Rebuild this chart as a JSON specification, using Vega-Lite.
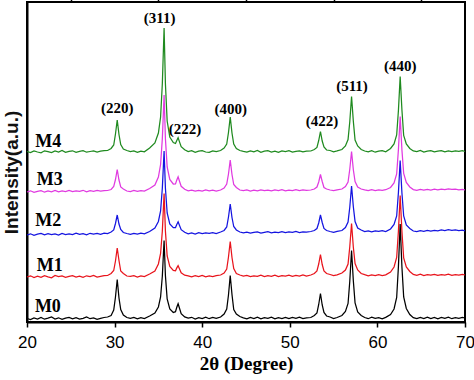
{
  "$schema": "https://vega.github.io/schema/vega-lite/v6.json",
  "width": 438,
  "height": 320,
  "autosize": "none",
  "padding": {"left": 27, "top": 2, "right": 9, "bottom": 58},
  "config": {"view": {"stroke": "black", "strokeWidth": 2}, "font": "Liberation Sans"},
  "datasets": {
    "xrd": [
      {"x":20.0,"M0":3.5,"M1":45,"M2":87,"M3":130,"M4":170.5},
      {"x":20.4,"M0":2.5,"M1":46.2,"M2":88.2,"M3":131.2,"M4":169.4},
      {"x":20.8,"M0":4,"M1":44.5,"M2":86.6,"M3":129.6,"M4":171},
      {"x":21.2,"M0":3,"M1":45.8,"M2":87.8,"M3":130.7,"M4":170},
      {"x":21.6,"M0":4.5,"M1":44.6,"M2":88.6,"M3":131.3,"M4":169.2},
      {"x":22.0,"M0":2.8,"M1":46.3,"M2":87.1,"M3":129.8,"M4":171.2},
      {"x":22.4,"M0":3.8,"M1":45.1,"M2":88.4,"M3":131,"M4":170.4},
      {"x":22.8,"M0":5,"M1":44.2,"M2":87.3,"M3":130.2,"M4":169.5},
      {"x":23.2,"M0":3,"M1":46.5,"M2":88.1,"M3":131.5,"M4":171},
      {"x":23.6,"M0":4.2,"M1":45.3,"M2":87,"M3":130.1,"M4":170},
      {"x":24.0,"M0":2.6,"M1":46,"M2":88.6,"M3":131.2,"M4":171.5},
      {"x":24.4,"M0":3.9,"M1":44.7,"M2":87.5,"M3":130.5,"M4":169.6},
      {"x":24.8,"M0":4.6,"M1":45.6,"M2":88.2,"M3":131.6,"M4":170.6},
      {"x":25.2,"M0":3.2,"M1":46.4,"M2":87.4,"M3":130.3,"M4":171.2},
      {"x":25.6,"M0":4.4,"M1":45,"M2":88.8,"M3":131,"M4":169.7},
      {"x":26.0,"M0":2.9,"M1":45.9,"M2":87.6,"M3":130.6,"M4":170.7},
      {"x":26.4,"M0":3.7,"M1":44.6,"M2":88.3,"M3":131.7,"M4":171.3},
      {"x":26.8,"M0":5,"M1":46.2,"M2":87.2,"M3":130.2,"M4":169.8},
      {"x":27.2,"M0":3.3,"M1":45.4,"M2":88.7,"M3":131.3,"M4":170.5},
      {"x":27.6,"M0":4.1,"M1":46.5,"M2":87.9,"M3":130.6,"M4":171},
      {"x":28.0,"M0":2.7,"M1":44.9,"M2":88.5,"M3":131.5,"M4":169.9},
      {"x":28.4,"M0":3.6,"M1":45.7,"M2":87.6,"M3":130.8,"M4":170.8},
      {"x":28.8,"M0":4.5,"M1":46.3,"M2":88.9,"M3":131.4,"M4":171.4},
      {"x":29.2,"M0":5,"M1":46.5,"M2":88.5,"M3":131.5,"M4":171.5},
      {"x":29.6,"M0":6.5,"M1":48.5,"M2":90,"M3":132.5,"M4":173.5},
      {"x":29.9,"M0":12,"M1":51.5,"M2":92,"M3":135.5,"M4":177},
      {"x":30.1,"M0":25,"M1":61,"M2":98.5,"M3":142.5,"M4":188},
      {"x":30.3,"M0":42.5,"M1":74,"M2":107,"M3":152.5,"M4":202},
      {"x":30.5,"M0":24,"M1":61.5,"M2":98,"M3":142,"M4":187.5},
      {"x":30.7,"M0":12.5,"M1":51,"M2":92.5,"M3":135,"M4":177.5},
      {"x":31.0,"M0":7,"M1":48.5,"M2":89.5,"M3":133,"M4":173},
      {"x":31.4,"M0":4.5,"M1":46,"M2":88.5,"M3":131,"M4":171.5},
      {"x":31.8,"M0":3.6,"M1":45.6,"M2":87.6,"M3":130.5,"M4":170.3},
      {"x":32.2,"M0":4.6,"M1":46.4,"M2":88.5,"M3":131.6,"M4":171.1},
      {"x":32.6,"M0":3.1,"M1":45,"M2":87.9,"M3":130.7,"M4":169.6},
      {"x":33.0,"M0":4.3,"M1":46.1,"M2":88.8,"M3":131.4,"M4":170.9},
      {"x":33.4,"M0":3.5,"M1":45.4,"M2":88.2,"M3":130.9,"M4":170.2},
      {"x":34.0,"M0":6,"M1":48,"M2":90.5,"M3":133.5,"M4":174},
      {"x":34.6,"M0":9,"M1":51,"M2":94,"M3":137,"M4":179},
      {"x":35.0,"M0":15,"M1":58,"M2":100.5,"M3":145,"M4":189},
      {"x":35.25,"M0":25,"M1":68.5,"M2":111,"M3":157.5,"M4":205},
      {"x":35.45,"M0":46,"M1":91,"M2":134,"M3":183.5,"M4":238.5},
      {"x":35.65,"M0":81.5,"M1":128.5,"M2":171,"M3":227,"M4":294},
      {"x":35.8,"M0":46.5,"M1":91,"M2":134,"M3":183.5,"M4":238.5},
      {"x":36.0,"M0":23,"M1":66,"M2":109,"M3":155,"M4":201},
      {"x":36.3,"M0":13,"M1":55.5,"M2":98,"M3":142.5,"M4":185},
      {"x":36.7,"M0":9.5,"M1":51.6,"M2":94.4,"M3":138,"M4":179.5},
      {"x":36.95,"M0":10.3,"M1":51.3,"M2":94.4,"M3":138.1,"M4":178.5},
      {"x":37.1,"M0":14.7,"M1":54.1,"M2":97.6,"M3":142,"M4":181.6},
      {"x":37.25,"M0":18.3,"M1":56.4,"M2":100.2,"M3":145.1,"M4":184.3},
      {"x":37.4,"M0":14,"M1":53.3,"M2":96.8,"M3":141,"M4":180.4},
      {"x":37.6,"M0":8.4,"M1":49.2,"M2":92.3,"M3":135.7,"M4":175.4},
      {"x":38.0,"M0":5.1,"M1":46.8,"M2":89.7,"M3":132.7,"M4":172.3},
      {"x":38.4,"M0":3.8,"M1":46.2,"M2":88.2,"M3":131.2,"M4":170.4},
      {"x":38.8,"M0":4.7,"M1":45.1,"M2":89,"M3":131.9,"M4":171.3},
      {"x":39.2,"M0":3,"M1":46.3,"M2":88,"M3":130.8,"M4":169.7},
      {"x":39.6,"M0":4.4,"M1":45.4,"M2":89.3,"M3":131.7,"M4":170.8},
      {"x":40.0,"M0":3.4,"M1":46.6,"M2":88.4,"M3":131,"M4":171.4},
      {"x":40.4,"M0":4.9,"M1":45.2,"M2":89.1,"M3":132,"M4":170},
      {"x":40.8,"M0":3.3,"M1":46,"M2":88.6,"M3":131.1,"M4":169.6},
      {"x":41.2,"M0":4.5,"M1":45.5,"M2":89.4,"M3":131.8,"M4":171},
      {"x":41.6,"M0":3.6,"M1":46.4,"M2":88.5,"M3":130.9,"M4":170.3},
      {"x":42.1,"M0":5,"M1":47,"M2":90,"M3":132,"M4":171.5},
      {"x":42.5,"M0":8,"M1":49,"M2":91.5,"M3":134,"M4":174},
      {"x":42.8,"M0":13,"M1":53,"M2":95,"M3":138,"M4":178},
      {"x":43.0,"M0":27,"M1":65,"M2":105,"M3":148,"M4":189.5},
      {"x":43.2,"M0":46.5,"M1":80.5,"M2":118,"M3":162,"M4":205},
      {"x":43.4,"M0":27.5,"M1":64.5,"M2":104.5,"M3":147.5,"M4":189},
      {"x":43.6,"M0":12.5,"M1":53.5,"M2":95.5,"M3":137.5,"M4":178},
      {"x":43.9,"M0":8,"M1":48.5,"M2":92,"M3":134.5,"M4":173.5},
      {"x":44.3,"M0":5.5,"M1":47,"M2":90,"M3":132,"M4":171.5},
      {"x":44.7,"M0":4.2,"M1":45.8,"M2":89.2,"M3":131.3,"M4":170.6},
      {"x":45.1,"M0":3.1,"M1":46.6,"M2":89.9,"M3":132,"M4":169.8},
      {"x":45.5,"M0":4.6,"M1":45.3,"M2":88.8,"M3":131,"M4":171.2},
      {"x":45.9,"M0":3.4,"M1":46.2,"M2":89.6,"M3":131.8,"M4":170.2},
      {"x":46.3,"M0":4.9,"M1":45.6,"M2":90.1,"M3":131.2,"M4":171.5},
      {"x":46.7,"M0":3.2,"M1":46.8,"M2":89,"M3":132.2,"M4":169.7},
      {"x":47.1,"M0":4.4,"M1":45.4,"M2":89.7,"M3":131.4,"M4":170.8},
      {"x":47.5,"M0":3.6,"M1":46.3,"M2":90.3,"M3":131.9,"M4":171.3},
      {"x":47.9,"M0":4.8,"M1":45.7,"M2":89.2,"M3":131.1,"M4":170},
      {"x":48.3,"M0":3.1,"M1":46.9,"M2":89.9,"M3":132.1,"M4":170.9},
      {"x":48.7,"M0":4.3,"M1":45.5,"M2":89.4,"M3":131.5,"M4":169.6},
      {"x":49.1,"M0":3.5,"M1":46.4,"M2":90.4,"M3":132.3,"M4":171.1},
      {"x":49.5,"M0":4.7,"M1":45.9,"M2":89.3,"M3":131.2,"M4":170.4},
      {"x":49.9,"M0":3.3,"M1":46.8,"M2":90,"M3":131.9,"M4":171.4},
      {"x":50.3,"M0":4.5,"M1":45.6,"M2":89.6,"M3":131.4,"M4":169.9},
      {"x":50.7,"M0":3.7,"M1":46.5,"M2":90.5,"M3":132.4,"M4":170.7},
      {"x":51.1,"M0":4.9,"M1":46,"M2":89.5,"M3":131.3,"M4":171.2},
      {"x":51.5,"M0":3.4,"M1":47,"M2":90.2,"M3":132,"M4":170.1},
      {"x":51.9,"M0":4.2,"M1":45.8,"M2":89.8,"M3":131.6,"M4":170.8},
      {"x":52.4,"M0":4.5,"M1":47,"M2":90.5,"M3":132,"M4":171},
      {"x":52.8,"M0":6.5,"M1":48.5,"M2":91.5,"M3":133,"M4":172.5},
      {"x":53.1,"M0":9,"M1":51,"M2":93.5,"M3":135,"M4":174.5},
      {"x":53.3,"M0":17.5,"M1":58,"M2":99,"M3":140,"M4":181.5},
      {"x":53.5,"M0":28.5,"M1":67.5,"M2":107,"M3":147.5,"M4":190.5},
      {"x":53.7,"M0":17,"M1":57.5,"M2":99.5,"M3":140.5,"M4":181},
      {"x":53.9,"M0":9.5,"M1":51,"M2":93.5,"M3":134.5,"M4":175},
      {"x":54.2,"M0":6,"M1":48.5,"M2":91.5,"M3":133,"M4":172},
      {"x":54.6,"M0":5,"M1":47.5,"M2":90.5,"M3":132,"M4":171.5},
      {"x":55.0,"M0":3.4,"M1":46.4,"M2":89.7,"M3":131.3,"M4":170.2},
      {"x":55.4,"M0":4.5,"M1":47.2,"M2":90.6,"M3":132.1,"M4":171.1},
      {"x":55.95,"M0":6.5,"M1":49,"M2":91.5,"M3":133,"M4":172.5},
      {"x":56.35,"M0":10.5,"M1":52,"M2":94.5,"M3":135.5,"M4":176},
      {"x":56.65,"M0":18.5,"M1":58,"M2":100,"M3":140,"M4":182.5},
      {"x":56.85,"M0":41,"M1":75.5,"M2":115,"M3":153,"M4":200.5},
      {"x":57.05,"M0":71.5,"M1":98.5,"M2":136,"M3":170.5,"M4":225.5},
      {"x":57.25,"M0":41.5,"M1":75,"M2":115.5,"M3":152.5,"M4":201},
      {"x":57.45,"M0":19,"M1":58.5,"M2":100.5,"M3":140.5,"M4":182},
      {"x":57.75,"M0":10,"M1":52,"M2":94,"M3":135,"M4":176},
      {"x":58.15,"M0":6.5,"M1":48.5,"M2":92,"M3":133,"M4":172.5},
      {"x":58.55,"M0":4.5,"M1":47.3,"M2":90.4,"M3":132.1,"M4":171},
      {"x":58.95,"M0":3.3,"M1":46.2,"M2":91.1,"M3":131.3,"M4":170.1},
      {"x":59.35,"M0":4.8,"M1":47,"M2":90.2,"M3":132.4,"M4":171.4},
      {"x":59.75,"M0":3.6,"M1":46.4,"M2":91,"M3":131.5,"M4":169.8},
      {"x":60.15,"M0":4.4,"M1":47.4,"M2":90.6,"M3":132.2,"M4":170.9},
      {"x":60.55,"M0":3.2,"M1":46.5,"M2":91.3,"M3":131.6,"M4":171.3},
      {"x":60.95,"M0":4.6,"M1":47.1,"M2":90.5,"M3":132.3,"M4":170.2},
      {"x":61.5,"M0":7.5,"M1":50,"M2":93,"M3":134.5,"M4":173.5},
      {"x":61.9,"M0":13,"M1":55,"M2":97.5,"M3":139,"M4":178},
      {"x":62.2,"M0":24.5,"M1":64.5,"M2":106,"M3":148,"M4":187},
      {"x":62.4,"M0":55.5,"M1":91,"M2":129.5,"M3":172.5,"M4":211.5},
      {"x":62.6,"M0":98,"M1":126.5,"M2":161.5,"M3":205.5,"M4":245.5},
      {"x":62.8,"M0":55,"M1":90.5,"M2":129,"M3":172,"M4":212},
      {"x":63.0,"M0":25,"M1":64,"M2":106,"M3":148.5,"M4":186.5},
      {"x":63.3,"M0":13.5,"M1":55,"M2":97,"M3":139.5,"M4":178},
      {"x":63.7,"M0":7.5,"M1":50.5,"M2":93.5,"M3":135,"M4":173.5},
      {"x":64.1,"M0":4.4,"M1":47.6,"M2":91,"M3":132.4,"M4":171.1},
      {"x":64.5,"M0":3.3,"M1":46.7,"M2":90.4,"M3":131.7,"M4":170.3},
      {"x":64.9,"M0":4.7,"M1":47.8,"M2":91.3,"M3":132.6,"M4":171.5},
      {"x":65.3,"M0":3.5,"M1":46.5,"M2":90.7,"M3":131.9,"M4":170},
      {"x":65.7,"M0":4.9,"M1":47.3,"M2":91.5,"M3":132.5,"M4":170.9},
      {"x":66.1,"M0":3.4,"M1":46.8,"M2":90.8,"M3":132,"M4":171.4},
      {"x":66.5,"M0":4.5,"M1":47.7,"M2":91.6,"M3":132.8,"M4":170.2},
      {"x":66.9,"M0":3.2,"M1":46.6,"M2":91.2,"M3":132.2,"M4":170.8},
      {"x":67.3,"M0":4.6,"M1":47.4,"M2":92,"M3":132.9,"M4":171.3},
      {"x":67.7,"M0":3.6,"M1":46.9,"M2":91.5,"M3":132.4,"M4":170.1},
      {"x":68.1,"M0":4.8,"M1":47.8,"M2":92.3,"M3":133.1,"M4":171.2},
      {"x":68.5,"M0":3.3,"M1":46.7,"M2":91.7,"M3":132.6,"M4":170.4},
      {"x":68.9,"M0":4.4,"M1":47.3,"M2":92.1,"M3":132.9,"M4":171},
      {"x":69.3,"M0":3.7,"M1":46.8,"M2":91.4,"M3":132.1,"M4":170.6},
      {"x":69.7,"M0":4.5,"M1":47.5,"M2":91.8,"M3":132.5,"M4":171.3},
      {"x":70.0,"M0":4,"M1":47,"M2":91.2,"M3":132,"M4":170.5}
    ],
    "names": [
      {"label":"M4","x":20.95,"intensity":175},
      {"label":"M3","x":21.1,"intensity":137},
      {"label":"M2","x":20.95,"intensity":96},
      {"label":"M1","x":21.1,"intensity":51},
      {"label":"M0","x":20.9,"intensity":10}
    ],
    "hkl": [
      {"label":"(220)","x":30.3,"intensity":209.5},
      {"label":"(311)","x":35.14,"intensity":299.5},
      {"label":"(222)","x":38.03,"intensity":188},
      {"label":"(400)","x":43.26,"intensity":208},
      {"label":"(422)","x":53.67,"intensity":196.5},
      {"label":"(511)","x":57.1,"intensity":231},
      {"label":"(440)","x":62.6,"intensity":251}
    ]
  },
  "resolve": {"axis": {"x": "independent"}},
  "layer": [
    {
      "data": {"name": "xrd"},
      "transform": [{"fold": ["M4", "M3", "M2", "M1", "M0"], "as": ["sample", "intensity"]}],
      "mark": {"type": "line", "strokeWidth": 1.25},
      "encoding": {
        "x": {
          "field": "x", "type": "quantitative",
          "scale": {"domain": [20, 70], "nice": false},
          "axis": {
            "values": [20, 30, 40, 50, 60, 70], "grid": false,
            "tickSize": 5, "tickColor": "black", "tickWidth": 1.5,
            "domainColor": "black", "domainWidth": 2,
            "labelFont": "Liberation Sans", "labelFontSize": 17, "labelColor": "black", "labelPadding": 7,
            "labelFlush": false,
            "title": "2θ (Degree)", "titleFont": "Liberation Serif", "titleFontWeight": "bold",
            "titleFontSize": 19, "titleColor": "black", "titlePadding": 4
          }
        },
        "y": {
          "field": "intensity", "type": "quantitative",
          "scale": {"domain": [0, 320], "nice": false},
          "axis": {
            "labels": false, "ticks": false, "grid": false,
            "domainColor": "black", "domainWidth": 2,
            "title": "Intensity(a.u.)", "titleFont": "Liberation Sans", "titleFontWeight": "bold",
            "titleFontSize": 19, "titleColor": "#111111",
            "titleX": -16, "titleY": 170, "titleAngle": -90, "titleAlign": "center", "titleBaseline": "middle"
          }
        },
        "color": {
          "field": "sample", "type": "nominal",
          "scale": {"domain": ["M4", "M3", "M2", "M1", "M0"], "range": ["#1f8a1f", "#e03ae0", "#1414e0", "#e8141c", "#000000"]},
          "legend": null
        }
      }
    },
    {
      "data": {"name": "names"},
      "mark": {"type": "text", "font": "Liberation Serif", "fontWeight": "bold", "fontSize": 18, "align": "left", "baseline": "alphabetic", "color": "black"},
      "encoding": {
        "x": {
          "field": "x", "type": "quantitative",
          "axis": {
            "values": [25, 35, 45, 55, 65], "labels": false, "domain": false, "grid": false,
            "tickSize": 3, "tickColor": "black", "tickWidth": 1.5, "title": null
          }
        },
        "y": {"field": "intensity", "type": "quantitative"},
        "text": {"field": "label"}
      }
    },
    {
      "data": {"name": "hkl"},
      "mark": {"type": "text", "font": "Liberation Serif", "fontWeight": "bold", "fontSize": 15, "align": "center", "baseline": "alphabetic", "color": "black"},
      "encoding": {
        "x": {"field": "x", "type": "quantitative", "axis": null},
        "y": {"field": "intensity", "type": "quantitative"},
        "text": {"field": "label"}
      }
    }
  ]
}
